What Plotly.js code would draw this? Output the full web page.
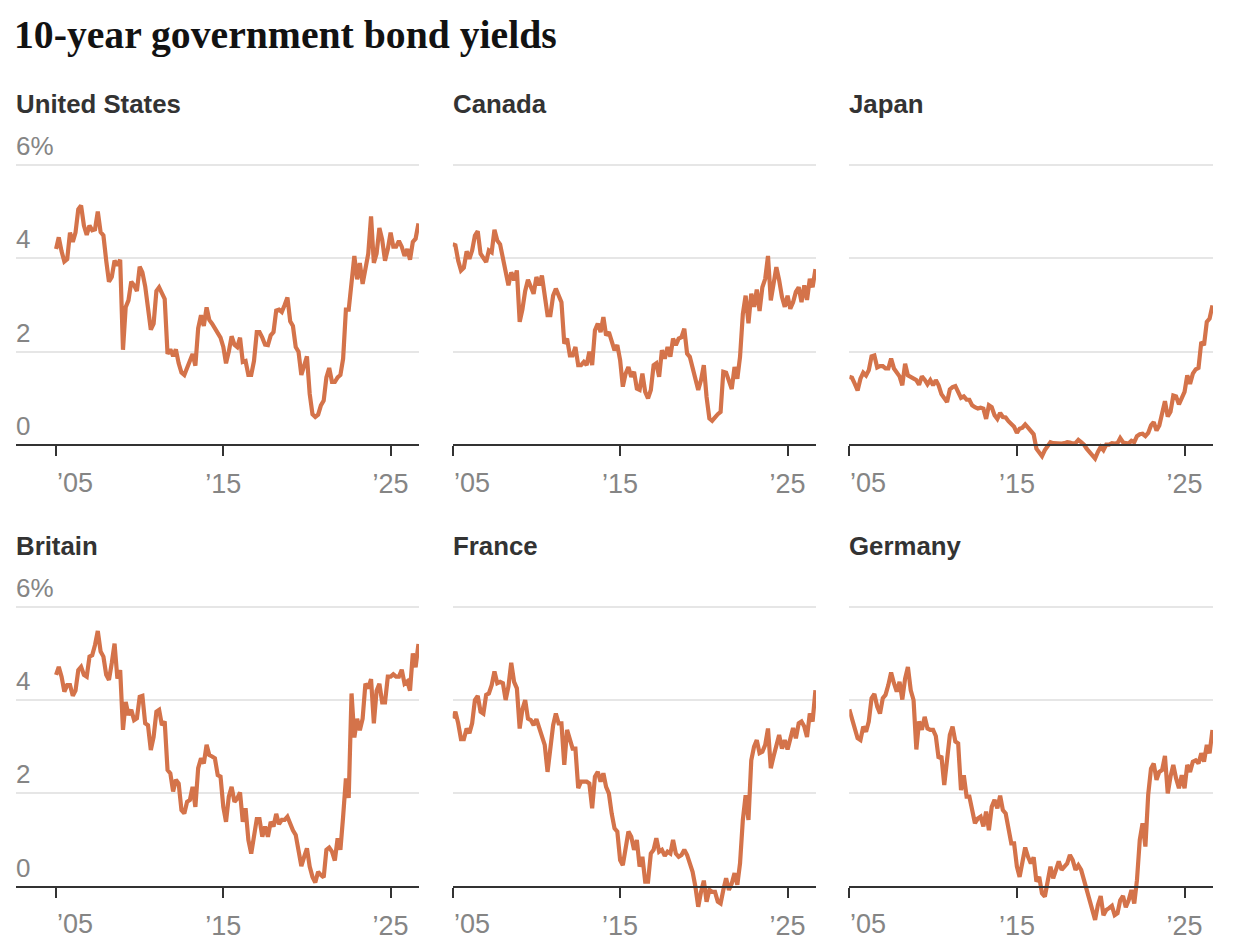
<!DOCTYPE html>
<html><head><meta charset="utf-8">
<script src="https://cdn.plot.ly/plotly-3.0.1.min.js"></script>
<style>html,body{margin:0;padding:0;background:#fff}</style></head>
<body><div id="chart" style="width:1234px;height:948px"></div>
<script>
const dates = [
"2005-01","2005-03","2005-05","2005-07","2005-09","2005-11","2006-01","2006-03","2006-05","2006-07","2006-09","2006-11",
"2007-01","2007-03","2007-05","2007-07","2007-09","2007-11","2008-01","2008-03","2008-05","2008-07","2008-09","2008-11",
"2009-01","2009-03","2009-05","2009-07","2009-09","2009-11","2010-01","2010-03","2010-05","2010-07","2010-09","2010-11",
"2011-01","2011-03","2011-05","2011-07","2011-09","2011-11","2012-01","2012-03","2012-05","2012-07","2012-09","2012-11",
"2013-01","2013-03","2013-05","2013-07","2013-09","2013-11","2014-01","2014-03","2014-05","2014-07","2014-09","2014-11",
"2015-01","2015-03","2015-05","2015-07","2015-09","2015-11","2016-01","2016-03","2016-05","2016-07","2016-09","2016-11",
"2017-01","2017-03","2017-05","2017-07","2017-09","2017-11","2018-01","2018-03","2018-05","2018-07","2018-09","2018-11",
"2019-01","2019-03","2019-05","2019-07","2019-09","2019-11","2020-01","2020-03","2020-05","2020-07","2020-09","2020-11",
"2021-01","2021-03","2021-05","2021-07","2021-09","2021-11","2022-01","2022-03","2022-05","2022-07","2022-09","2022-11",
"2023-01","2023-03","2023-05","2023-07","2023-09","2023-11","2024-01","2024-03","2024-05","2024-07","2024-09","2024-11",
"2025-01","2025-03","2025-05","2025-07","2025-09","2025-11","2026-01","2026-03","2026-05","2026-07","2026-09"];

const unitedStates = [4.2,4.45,4.15,3.93,3.98,4.55,4.35,4.55,5.05,5.13,4.7,4.5,
4.7,4.6,4.62,5.0,4.56,4.49,3.95,3.5,3.6,3.95,3.85,3.97,
2.04,2.95,3.1,3.5,3.42,3.3,3.82,3.7,3.4,2.9,2.47,2.6,
3.3,3.38,3.25,3.13,1.95,2.05,1.9,2.05,1.75,1.55,1.5,1.65,
1.75,1.95,1.7,2.5,2.78,2.55,2.95,2.68,2.6,2.5,2.4,2.3,
2.1,1.75,2.0,2.33,2.15,2.1,2.3,1.78,1.8,1.5,1.5,1.8,
2.42,2.42,2.3,2.15,2.14,2.35,2.42,2.88,2.9,2.85,3.0,3.16,
2.65,2.55,2.1,2.0,1.5,1.74,1.9,1.1,0.66,0.6,0.65,0.85,
0.95,1.45,1.65,1.35,1.35,1.45,1.5,1.85,2.9,2.9,3.4,4.05,
3.55,3.9,3.45,3.75,4.1,4.9,3.9,4.1,4.65,4.4,3.95,4.2,
4.55,4.25,4.25,4.37,4.25,4.05,4.2,3.97,4.35,4.42,4.75];

const canada = [4.3,4.28,3.95,3.74,3.8,4.15,3.99,4.17,4.49,4.58,4.1,3.99,
3.92,4.17,4.13,4.61,4.38,4.3,3.99,3.74,3.42,3.7,3.53,3.74,
2.64,2.9,3.3,3.54,3.38,3.24,3.6,3.42,3.63,3.17,2.78,2.78,
3.2,3.35,3.17,3.06,2.17,2.28,1.92,1.92,2.1,1.71,1.71,1.78,
1.71,2.0,1.71,2.46,2.6,2.42,2.74,2.35,2.42,2.24,2.03,2.14,
1.82,1.25,1.53,1.67,1.46,1.57,1.21,1.18,1.53,1.14,1.0,1.18,
1.71,1.75,1.46,2.03,1.85,2.1,1.89,2.28,2.14,2.28,2.31,2.49,
1.96,1.89,1.64,1.46,1.18,1.39,1.71,1.03,0.57,0.52,0.6,0.66,
0.71,1.57,1.55,1.39,1.2,1.67,1.42,1.89,2.81,3.2,2.61,3.24,
2.96,3.33,2.87,3.38,3.56,4.05,3.1,3.45,3.81,3.53,3.17,2.96,
3.2,2.92,3.06,3.28,3.38,3.06,3.42,3.11,3.56,3.38,3.77];

const japan = [1.46,1.44,1.31,1.17,1.42,1.55,1.49,1.6,1.9,1.92,1.66,1.69,
1.69,1.64,1.64,1.85,1.64,1.56,1.47,1.28,1.74,1.49,1.46,1.42,
1.39,1.29,1.47,1.4,1.3,1.39,1.28,1.39,1.28,1.09,1.01,0.92,
1.19,1.24,1.26,1.14,1.01,1.04,0.97,0.97,0.85,0.81,0.78,0.8,
0.78,0.56,0.85,0.81,0.64,0.56,0.69,0.6,0.59,0.51,0.46,0.39,
0.26,0.35,0.37,0.44,0.37,0.28,0.23,-0.08,-0.15,-0.24,-0.11,-0.04,
0.06,0.04,0.03,0.04,0.03,0.04,0.06,0.05,0.03,0.04,0.11,0.06,
0.01,-0.08,-0.15,-0.19,-0.29,-0.15,-0.04,-0.11,0.01,0.01,0.04,0.03,
0.04,0.15,0.06,0.04,0.03,0.09,0.06,0.19,0.23,0.24,0.19,0.26,
0.42,0.49,0.31,0.42,0.64,0.94,0.61,0.71,1.06,1.04,0.87,0.99,
1.14,1.49,1.31,1.53,1.62,1.65,2.21,2.14,2.64,2.71,2.99];

const britain = [4.54,4.71,4.5,4.18,4.32,4.32,4.09,4.2,4.64,4.71,4.54,4.5,
4.93,4.96,5.18,5.48,5.04,4.93,4.54,4.43,4.79,5.21,4.46,4.64,
3.36,3.96,3.68,3.79,3.57,3.61,4.07,4.09,3.5,3.46,2.93,3.21,
3.75,3.79,3.46,3.54,2.5,2.43,2.04,2.29,2.21,1.64,1.57,1.82,
1.86,2.14,1.71,2.54,2.75,2.64,3.04,2.82,2.79,2.75,2.39,2.36,
1.71,1.39,1.93,2.14,1.82,1.89,2.02,1.39,1.68,1.0,0.71,1.14,
1.45,1.45,1.07,1.29,1.07,1.39,1.29,1.56,1.34,1.43,1.43,1.5,
1.32,1.21,1.11,0.82,0.44,0.64,0.82,0.43,0.21,0.09,0.32,0.25,
0.2,0.79,0.84,0.75,0.56,1.04,0.79,1.5,2.32,1.9,4.14,3.2,
3.6,3.35,3.6,4.35,4.25,4.45,3.5,4.2,4.35,3.95,3.95,4.5,
4.5,4.55,4.5,4.5,4.65,4.35,4.4,4.2,5.0,4.7,5.2];

const france = [3.61,3.75,3.5,3.16,3.16,3.39,3.29,3.5,4.0,4.09,3.75,3.71,
4.11,4.14,4.32,4.61,4.36,4.39,4.36,4.0,4.29,4.8,4.39,4.25,
3.39,3.8,4.0,3.6,3.57,3.46,3.59,3.41,3.29,3.04,2.46,2.93,
3.46,3.71,3.5,3.5,2.61,3.36,3.11,2.96,2.96,2.11,2.25,2.25,
2.25,2.21,1.68,2.36,2.46,2.25,2.43,2.14,2.0,1.57,1.25,1.18,
0.57,0.46,0.79,1.18,1.07,0.79,1.0,0.43,0.64,0.11,0.11,0.71,
0.79,1.04,0.75,0.79,0.66,0.75,0.71,1.0,0.71,0.64,0.68,0.79,
0.68,0.5,0.32,0.0,-0.43,-0.11,0.13,-0.32,-0.07,-0.11,-0.11,-0.32,
-0.36,-0.07,0.18,-0.07,0.07,0.29,0.04,0.5,1.43,1.96,1.43,2.71,
3.0,3.14,2.86,2.89,3.04,3.39,2.54,2.79,3.07,3.25,2.96,3.14,
2.94,3.18,3.4,3.18,3.5,3.54,3.43,3.21,3.71,3.54,4.21];

const germany = [3.8,3.6,3.39,3.18,3.14,3.43,3.32,3.54,4.04,4.13,3.86,3.71,
4.04,4.11,4.32,4.59,4.36,4.18,4.39,4.01,4.46,4.71,4.21,4.0,
2.94,3.54,3.36,3.64,3.39,3.36,3.36,3.23,2.75,2.8,2.18,2.71,
3.25,3.43,3.11,3.07,2.07,2.39,1.93,1.93,1.64,1.36,1.46,1.5,
1.29,1.61,1.21,1.71,1.86,1.68,1.95,1.64,1.57,1.25,0.93,0.93,
0.43,0.21,0.5,0.84,0.64,0.5,0.63,0.11,0.21,-0.14,-0.21,0.18,
0.43,0.18,0.36,0.54,0.36,0.43,0.5,0.68,0.57,0.36,0.46,0.36,
0.14,0.0,-0.25,-0.43,-0.71,-0.39,-0.2,-0.61,-0.5,-0.46,-0.41,-0.61,
-0.57,-0.29,-0.2,-0.44,-0.29,-0.07,-0.36,0.14,1.0,1.36,0.86,1.97,
2.53,2.64,2.29,2.46,2.5,2.8,2.0,2.36,2.61,2.32,2.11,2.39,
2.11,2.61,2.46,2.68,2.71,2.64,2.86,2.68,3.04,2.86,3.36];

const countries = ["United States","Canada","Japan","Britain","France","Germany"];
const seriesValues = [unitedStates,canada,japan,britain,france,germany];
const yTicks = [0,2,4,6];
const yTickLabels = ["0","2","4","6%"];
const xTicks = ["2005-01-01","2015-01-01","2025-01-01"];
const xTickLabels = ["","’15","’25"];
const firstTickLabel = "’05";

const W = 1234, H = 948;
const LINE = "#d4734a", GRID = "#e6e6e6", AXIS = "#333333", MUTED = "#858585";
const pxLeft = [[16,419],[452.7,816],[849.3,1213]];
const xRanges = [["2002-08-10","2026-09-13"],["2005-01-01","2026-09-13"],["2005-01-01","2026-09-13"]];
const zeroPx = [445, 886.7];
const titlePx = [104, 546];
const pxPerUnit = 46.67;
const yRange = [-0.9,6.9];

const traces = [], annotations = [];
const layout = {width:W,height:H,margin:{l:0,r:0,t:0,b:0},paper_bgcolor:"#fff",plot_bgcolor:"rgba(0,0,0,0)",
  showlegend:false,
  font:{family:"Liberation Sans, Arial, sans-serif",color:MUTED},
  title:{text:"10-year government bond yields",x:14/W,xanchor:"left",xref:"paper",y:1-34/H,yanchor:"middle",
    font:{family:"Liberation Serif, serif",size:39.7,weight:700,color:"#121212"}}};

countries.forEach((name,k)=>{
  const n = k+1, col = k%3, row = Math.floor(k/3);
  const xa = n===1?"x":"x"+n, ya = n===1?"y":"y"+n;
  traces.push({type:"scatter",mode:"lines",x:dates,y:seriesValues[k],xaxis:xa,yaxis:ya,cliponaxis:false,
    line:{color:LINE,width:4.2,shape:"linear"},hoverinfo:"skip"});
  const top = zeroPx[row]-yRange[1]*pxPerUnit, bottom = zeroPx[row]-yRange[0]*pxPerUnit;
  layout[n===1?"xaxis":"xaxis"+n] = {type:"date",domain:[pxLeft[col][0]/W,pxLeft[col][1]/W],range:xRanges[col],
    anchor:"free",position:1-zeroPx[row]/H,showgrid:false,zeroline:false,showline:true,linecolor:AXIS,linewidth:2,
    ticks:"outside",ticklen:10,tickwidth:2,tickcolor:AXIS,tickmode:"array",tickvals:xTicks,ticktext:xTickLabels,
    ticklabelstandoff:5,tickfont:{size:27,color:MUTED}};
  layout[n===1?"yaxis":"yaxis"+n] = {domain:[1-bottom/H,1-top/H],range:yRange,anchor:xa,showgrid:true,gridcolor:GRID,gridwidth:2,
    zeroline:false,showline:false,ticks:"",tickmode:"array",tickvals:yTicks,ticktext:yTickLabels,
    showticklabels:col===0,ticklabelposition:"inside",ticklabelshift:-19,ticklabelstandoff:-3,tickfont:{size:26,color:MUTED}};
  annotations.push({xref:"paper",yref:"paper",x:pxLeft[col][0]/W,y:1-titlePx[row]/H,xanchor:"left",yanchor:"middle",showarrow:false,
    text:"<b>"+name+"</b>",font:{size:25.8,color:"#333333"},borderpad:0,borderwidth:0});
  annotations.push({xref:xa,yref:"paper",x:xTicks[0],y:1-(zeroPx[row]+37.6)/H,xanchor:"left",yanchor:"middle",showarrow:false,
    text:firstTickLabel,font:{size:27,color:MUTED},borderpad:0});
});
layout.annotations = annotations;
Plotly.newPlot("chart",traces,layout,{staticPlot:true,displayModeBar:false});
</script></body></html>
